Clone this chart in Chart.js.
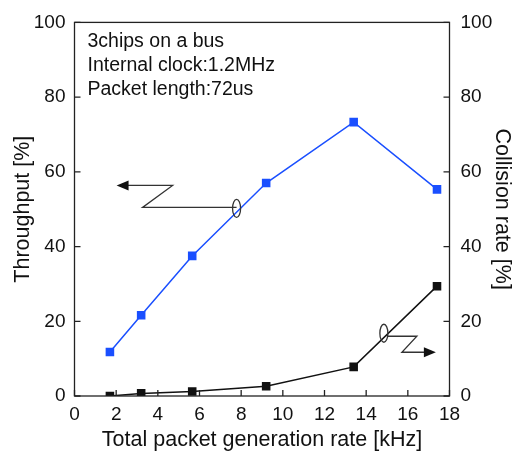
<!DOCTYPE html>
<html>
<head>
<meta charset="utf-8">
<script src="https://cdn.jsdelivr.net/npm/chart.js@4.4.0/dist/chart.umd.min.js"></script>
<style>
  html, body { margin: 0; padding: 0; background: #fff; }
  #wrap { width: 515px; height: 454px; }
</style>
</head>
<body>
<div id="wrap"><canvas id="chart" width="515" height="454"></canvas></div>
<script>
// Data
const rateKHz = [1.7, 3.2, 5.65, 9.2, 13.4, 17.4];
const throughput = [11.8, 21.6, 37.5, 57.0, 73.3, 55.3];
const collision = [0.0, 0.7, 1.2, 2.6, 7.8, 29.4];
const xTicks = [0, 2, 4, 6, 8, 10, 12, 14, 16, 18];
const yTicks = [0, 20, 40, 60, 80, 100];
const infoLines = ['3chips on a bus', 'Internal clock:1.2MHz', 'Packet length:72us'];

const FONT = 'Arial, "Liberation Sans", Helvetica, sans-serif';
const BLUE = '#1a4fff';
const INK = '#111';

// frame, inward ticks, note text and the two pointer arrows
const decorPlugin = {
  id: 'decor',
  afterDraw(chart) {
    const { ctx, chartArea: a, scales } = chart;
    const sx = scales.x, sy = scales.y, sy1 = scales.y1;
    ctx.save();
    ctx.strokeStyle = '#222';
    ctx.lineWidth = 1.3;
    ctx.strokeRect(a.left, a.top, a.right - a.left, a.bottom - a.top);

    ctx.beginPath();
    xTicks.forEach(v => {
      const px = sx.getPixelForValue(v);
      ctx.moveTo(px, a.bottom); ctx.lineTo(px, a.bottom - 6);
    });
    yTicks.forEach(v => {
      const py = sy.getPixelForValue(v);
      ctx.moveTo(a.left, py); ctx.lineTo(a.left + 6, py);
      const py1 = sy1.getPixelForValue(v);
      ctx.moveTo(a.right, py1); ctx.lineTo(a.right - 6, py1);
    });
    ctx.stroke();

    // note text
    ctx.fillStyle = INK;
    ctx.font = '19.5px ' + FONT;
    ctx.textBaseline = 'middle';
    infoLines.forEach((t, i) => ctx.fillText(t, a.left + 13, a.top + 19 + i * 24));

    // pointer to the left axis (throughput)
    ctx.strokeStyle = '#333';
    ctx.lineWidth = 1.3;
    let e = [sx.getPixelForValue(7.78), sy.getPixelForValue(50.2)];
    ctx.beginPath();
    ctx.ellipse(e[0], e[1], 4, 9, 0, 0, Math.PI * 2);
    ctx.stroke();
    ctx.beginPath();
    ctx.moveTo(e[0], e[1] - 1);
    ctx.lineTo(e[0] - 94, e[1] - 1);
    ctx.lineTo(e[0] - 64, e[1] - 23);
    ctx.lineTo(e[0] - 112, e[1] - 23);
    ctx.stroke();
    ctx.fillStyle = '#111';
    ctx.beginPath();
    ctx.moveTo(e[0] - 120, e[1] - 23);
    ctx.lineTo(e[0] - 108, e[1] - 28);
    ctx.lineTo(e[0] - 108, e[1] - 18);
    ctx.closePath();
    ctx.fill();

    // pointer to the right axis (collision)
    e = [sx.getPixelForValue(14.85), sy1.getPixelForValue(16.8)];
    ctx.beginPath();
    ctx.ellipse(e[0], e[1], 4, 9, 0, 0, Math.PI * 2);
    ctx.stroke();
    ctx.beginPath();
    ctx.moveTo(e[0] + 3, e[1] + 3);
    ctx.lineTo(e[0] + 33, e[1] + 3);
    ctx.lineTo(e[0] + 18, e[1] + 19);
    ctx.lineTo(e[0] + 45, e[1] + 19);
    ctx.stroke();
    ctx.beginPath();
    ctx.moveTo(e[0] + 52, e[1] + 19);
    ctx.lineTo(e[0] + 40, e[1] + 14);
    ctx.lineTo(e[0] + 40, e[1] + 24);
    ctx.closePath();
    ctx.fill();
    ctx.restore();
  }
};

const tickFont = { family: FONT, size: 19 };
const titleFont = { family: FONT, size: 21.5 };

new Chart(document.getElementById('chart').getContext('2d'), {
  type: 'scatter',
  data: {
    datasets: [{
      label: 'Throughput',
      data: rateKHz.map((x, i) => ({ x: x, y: throughput[i] })),
      yAxisID: 'y',
      showLine: true,
      borderColor: BLUE,
      backgroundColor: BLUE,
      borderWidth: 1.5,
      pointStyle: 'rect',
      pointRadius: 5,
      pointHoverRadius: 5
    }, {
      label: 'Collision rate',
      data: rateKHz.map((x, i) => ({ x: x, y: collision[i] })),
      yAxisID: 'y1',
      showLine: true,
      borderColor: INK,
      backgroundColor: INK,
      borderWidth: 1.5,
      pointStyle: 'rect',
      pointRadius: 5,
      pointHoverRadius: 5
    }]
  },
  options: {
    responsive: false,
    animation: false,
    events: [],
    layout: { padding: { top: 21, left: 0, right: 0, bottom: 0 } },
    plugins: { legend: { display: false }, tooltip: { enabled: false } },
    scales: {
      x: {
        type: 'linear',
        min: 0, max: 18,
        afterBuildTicks: s => { s.ticks = xTicks.map(v => ({ value: v })); },
        afterFit: s => { s.height = 58; },
        grid: { display: false, drawTicks: false },
        border: { display: false },
        ticks: { font: tickFont, color: INK, padding: 7, maxRotation: 0 },
        title: { display: true, text: 'Total packet generation rate [kHz]', font: titleFont, color: INK, padding: { top: 0, bottom: 1 } }
      },
      y: {
        type: 'linear',
        position: 'left',
        min: 0, max: 100,
        afterBuildTicks: s => { s.ticks = yTicks.map(v => ({ value: v })); },
        afterFit: s => { s.width = 74.5; },
        grid: { display: false, drawTicks: false },
        border: { display: false },
        ticks: { font: tickFont, color: INK, padding: 9 },
        title: { display: true, text: 'Throughput [%]', font: titleFont, color: INK, padding: { top: 10, bottom: 0 } }
      },
      y1: {
        type: 'linear',
        position: 'right',
        min: 0, max: 100,
        afterBuildTicks: s => { s.ticks = yTicks.map(v => ({ value: v })); },
        afterFit: s => { s.width = 65.5; },
        grid: { display: false, drawTicks: false },
        border: { display: false },
        ticks: { font: tickFont, color: INK, padding: 11 },
        title: { display: true, text: 'Collision rate [%]', font: titleFont, color: INK, padding: { top: 0, bottom: 0 } }
      }
    }
  },
  plugins: [decorPlugin]
});
</script>
</body>
</html>
